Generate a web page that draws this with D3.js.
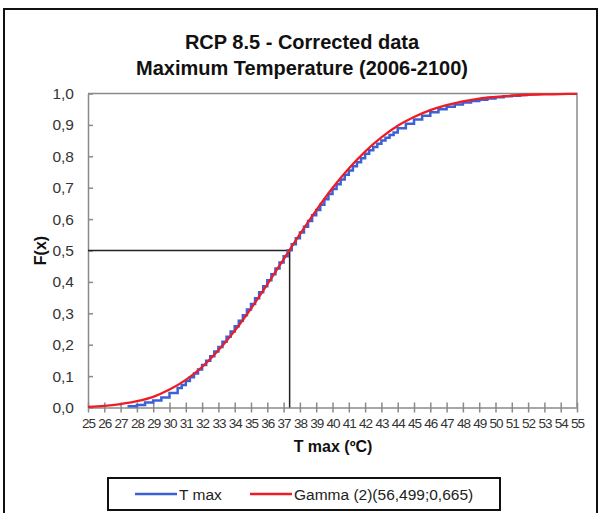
<!DOCTYPE html>
<html>
<head>
<meta charset="utf-8">
<script src="https://cdn.jsdelivr.net/npm/d3@7"></script>
<style>
  body { margin: 0; background: #fff; }
  svg { font-family: "Liberation Sans", Arial, sans-serif; }
</style>
</head>
<body>
<svg></svg>
<script>
// chart data
let titleLines = ['RCP 8.5 - Corrected data', 'Maximum Temperature (2006-2100)']
let xTicks = d3.range(25, 56)
let yTicks = [0, 0.1, 0.2, 0.3, 0.4, 0.5, 0.6, 0.7, 0.8, 0.9, 1.0]

// empirical CDF (T max), step starts
let tmaxX = [27.5, 28, 28.5, 29, 29.5, 30, 30.5, 30.75, 31, 31.25, 31.5, 31.75, 32, 32.25, 32.5, 32.75,
             33, 33.25, 33.5, 33.75, 34, 34.25, 34.5, 34.75, 35, 35.25, 35.5, 35.75, 36, 36.25, 36.5, 36.75,
             37, 37.25, 37.5, 37.75, 38, 38.25, 38.5, 38.75, 39, 39.25, 39.5, 39.75, 40, 40.25, 40.5, 40.75,
             41, 41.25, 41.5, 41.75, 42, 42.25, 42.5, 42.75, 43, 43.25, 43.5, 43.75, 44, 44.5, 45, 45.5,
             46, 46.5, 47, 47.5, 48, 48.5, 49, 49.5, 50, 50.5, 51, 51.5]
let tmaxF = [0.004, 0.008, 0.016, 0.022, 0.032, 0.046, 0.062, 0.072, 0.084, 0.096, 0.108, 0.121, 0.135, 0.149, 0.163, 0.178,
             0.193, 0.209, 0.225, 0.242, 0.259, 0.276, 0.294, 0.312, 0.330, 0.348, 0.367, 0.386, 0.405, 0.424, 0.443, 0.462,
             0.482, 0.501, 0.520, 0.539, 0.557, 0.576, 0.594, 0.612, 0.629, 0.646, 0.663, 0.680, 0.696, 0.711, 0.726, 0.741,
             0.755, 0.768, 0.781, 0.794, 0.808, 0.819, 0.830, 0.840, 0.850, 0.859, 0.868, 0.876, 0.889, 0.904, 0.917, 0.929,
             0.940, 0.950, 0.958, 0.965, 0.971, 0.976, 0.980, 0.984, 0.988, 0.991, 0.993, 0.995]

// fitted gamma curve read at each degree
let gammaX = d3.range(25, 56)
let gammaF = [0.002, 0.005, 0.011, 0.020, 0.034, 0.057, 0.088, 0.129, 0.182, 0.244, 0.315,
              0.392, 0.472, 0.552, 0.628, 0.699, 0.761, 0.815, 0.860, 0.897, 0.925, 0.947,
              0.963, 0.975, 0.984, 0.989, 0.993, 0.996, 0.997, 0.998, 0.999]

let medianX = 37.37
let medianF = 0.5

let legendNames = ['T max', 'Gamma (2)(56,499;0,665)']
let legendColors = ['#3a62d6', '#ee1c25']

let width = 600
let height = 513
let plotLeft = 88, plotRight = 577, plotTop = 93.5, plotBottom = 407.5

let svg = d3.select('svg').attr('width', width).attr('height', height)

// outer frame
svg.append('rect')
    .attr('x', 4).attr('y', 9)
    .attr('width', 593).attr('height', 520)
    .attr('fill', 'white').attr('stroke', '#111').attr('stroke-width', 2)

// title
svg.append('g').selectAll('text')
    .data(titleLines)
    .enter()
    .append('text')
    .attr('x', 302)
    .attr('y', (d, i) => 49 + i * 25.5)
    .attr('text-anchor', 'middle')
    .attr('font-size', 20)
    .attr('font-weight', 'bold')
    .attr('fill', '#111')
    .text(d => d)

let xScale = d3.scaleLinear().domain([25, 55]).range([plotLeft, plotRight])
let yScale = d3.scaleLinear().domain([0, 1]).range([plotBottom, plotTop])

// plot frame (top + right)
svg.append('path')
    .attr('d', `M${plotLeft},${plotTop}H${plotRight}V${plotBottom}`)
    .attr('fill', 'none').attr('stroke', '#8a8a8a').attr('stroke-width', 1.5)

let fmt = d => d3.format('.1f')(d).replace('.', ',')

let yAxis = d3.axisLeft(yScale).tickValues(yTicks).tickFormat(fmt).tickSizeInner(5).tickSizeOuter(0).tickPadding(9)
let gy = svg.append('g').attr('transform', `translate(${plotLeft},0)`).call(yAxis)
gy.selectAll('.tick line').attr('x2', 5)
gy.selectAll('text').attr('font-size', 15.5).attr('fill', '#333').attr('font-family', '"Liberation Sans", Arial')

let xAxis = d3.axisBottom(xScale).tickValues(xTicks).tickFormat(d3.format('d')).tickSizeInner(5).tickSizeOuter(0).tickPadding(6)
let gx = svg.append('g').attr('transform', `translate(0,${plotBottom})`).call(xAxis)
gx.selectAll('.tick line').attr('y1', -5)
gx.selectAll('text').attr('font-size', 13.5).attr('letter-spacing', -1).attr('fill', '#333').attr('font-family', '"Liberation Sans", Arial')

svg.selectAll('.domain, .tick line').attr('stroke', '#8a8a8a').attr('stroke-width', 1.5)

// axis titles
svg.append('text')
    .attr('x', 333).attr('y', 452)
    .attr('text-anchor', 'middle')
    .attr('font-size', 16).attr('font-weight', 'bold').attr('fill', '#111')
    .text('T max (ºC)')

svg.append('text')
    .attr('transform', `translate(46,${(plotTop + plotBottom) / 2}) rotate(-90)`)
    .attr('text-anchor', 'middle')
    .attr('font-size', 16).attr('font-weight', 'bold').attr('fill', '#111')
    .text('F(x)')

// median guide lines
svg.append('path')
    .attr('d', `M${plotLeft},${yScale(medianF)}H${xScale(medianX)}V${plotBottom}`)
    .attr('fill', 'none').attr('stroke', '#222').attr('stroke-width', 1.5)

// empirical step line
let stepLine = d3.line()
    .x(d => xScale(d[0]))
    .y(d => yScale(d[1]))
    .curve(d3.curveStepAfter)

let stepData = [[tmaxX[0], 0]].concat(tmaxX.map((x, i) => [x, tmaxF[i]]))
stepData.push([tmaxX[tmaxX.length - 1] + 0.5, tmaxF[tmaxF.length - 1]])

svg.append('path')
    .datum(stepData)
    .attr('d', stepLine)
    .attr('fill', 'none')
    .attr('stroke', legendColors[0])
    .attr('stroke-width', 2.5)

// gamma line
let gammaLine = d3.line()
    .x(d => xScale(d[0]))
    .y(d => yScale(d[1]))
    .curve(d3.curveMonotoneX)

svg.append('path')
    .datum(gammaX.map((x, i) => [x, gammaF[i]]))
    .attr('d', gammaLine)
    .attr('fill', 'none')
    .attr('stroke', legendColors[1])
    .attr('stroke-width', 2.3)

// legend
let legend = svg.append('g')
legend.append('rect')
    .attr('x', 108).attr('y', 478)
    .attr('width', 392).attr('height', 32)
    .attr('fill', 'white').attr('stroke', '#111').attr('stroke-width', 2)

let legX = [135, 250]
legendNames.forEach((name, i) => {
    legend.append('line')
        .attr('x1', legX[i]).attr('x2', legX[i] + 42)
        .attr('y1', 494).attr('y2', 494)
        .attr('stroke', legendColors[i]).attr('stroke-width', 2.5)
    legend.append('text')
        .attr('x', legX[i] + 44).attr('y', 499.5)
        .attr('font-size', 15.5).attr('fill', '#222')
        .text(name)
})
</script>
</body>
</html>
